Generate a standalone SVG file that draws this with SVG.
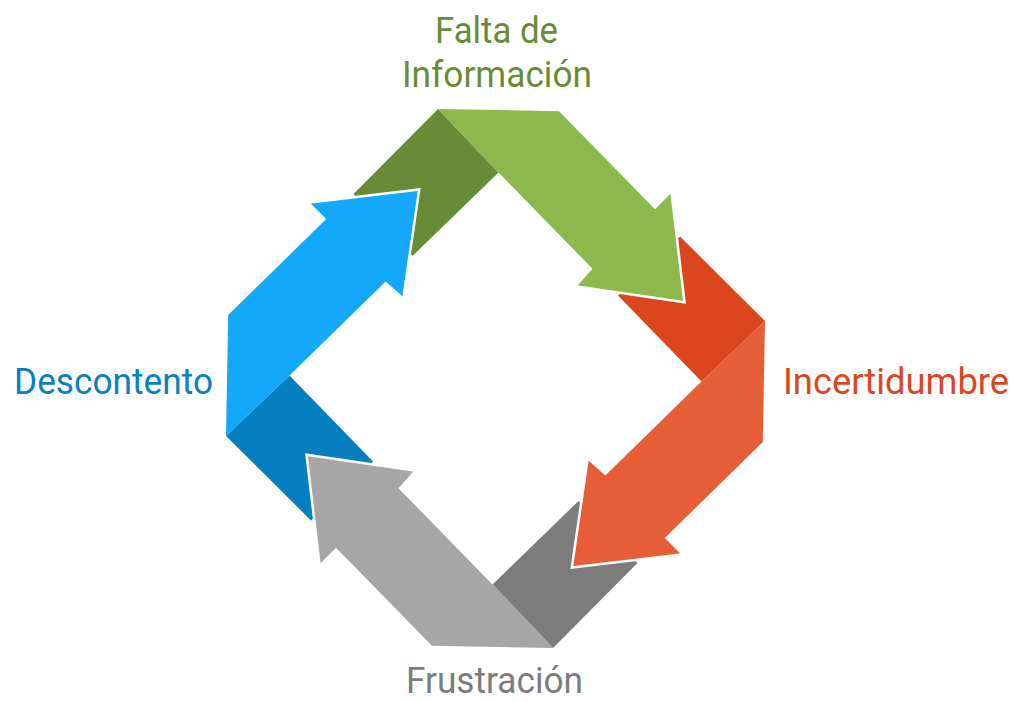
<svg xmlns="http://www.w3.org/2000/svg" xmlns:xlink="http://www.w3.org/1999/xlink" width="1014" height="702" viewBox="0 0 1014 702">
  <style>
    .lbl { font-family: Roboto, "Open Sans", "Liberation Sans", sans-serif; font-size: 37px; }
    .tip { fill: none; stroke: #ffffff; stroke-width: 2.5; stroke-linejoin: miter; }
  </style>
  <defs>
    <polygon id="fold" points="-57.5,-269.5 -142,-184.5 -83,-122.5 3,-206"/>
    <polygon id="arrow" points="-57.5,-269.5 63.5,-267.3 159.5,-169.3 176,-185.8 189,-76.3 81.3,-92 97,-109.8 3,-206"/>
    <polyline id="tipline" points="176,-185.8 189,-76.3 81.3,-92"/>
  </defs>
  <rect width="1014" height="702" fill="#ffffff"/>
  <g id="connectors" transform="translate(495.5,378.5)">
    <use xlink:href="#fold" fill="#678b37"/>
    <use xlink:href="#fold" fill="#dc461e" transform="rotate(90)"/>
    <use xlink:href="#fold" fill="#7c7c7c" transform="rotate(180)"/>
    <use xlink:href="#fold" fill="#057fc0" transform="rotate(270)"/>
    <g id="arrow-green">
      <use xlink:href="#arrow" fill="#8db84d"/>
      <use xlink:href="#tipline" class="tip"/>
    </g>
    <g id="arrow-orange" transform="rotate(90)">
      <use xlink:href="#arrow" fill="#e55e37"/>
      <use xlink:href="#tipline" class="tip"/>
    </g>
    <g id="arrow-gray" transform="rotate(180)">
      <use xlink:href="#arrow" fill="#a6a6a6"/>
      <use xlink:href="#tipline" class="tip"/>
    </g>
    <g id="arrow-blue" transform="rotate(270)">
      <use xlink:href="#arrow" fill="#13a8f9"/>
      <use xlink:href="#tipline" class="tip"/>
    </g>
  </g>
  <g id="node-falta">
    <text class="lbl" x="435" y="43" fill="#678b37" textLength="123" lengthAdjust="spacingAndGlyphs">Falta de</text>
    <text class="lbl" x="402" y="87" fill="#678b37" textLength="190" lengthAdjust="spacingAndGlyphs">Información</text>
  </g>
  <g id="node-incertidumbre">
    <text class="lbl" x="783" y="394" fill="#dc461e" textLength="226" lengthAdjust="spacingAndGlyphs">Incertidumbre</text>
  </g>
  <g id="node-frustracion">
    <text class="lbl" x="406" y="693" fill="#7c7c7c" textLength="177" lengthAdjust="spacingAndGlyphs">Frustración</text>
  </g>
  <g id="node-descontento">
    <text class="lbl" x="14" y="394" fill="#0a80c2" textLength="199" lengthAdjust="spacingAndGlyphs">Descontento</text>
  </g>
</svg>
